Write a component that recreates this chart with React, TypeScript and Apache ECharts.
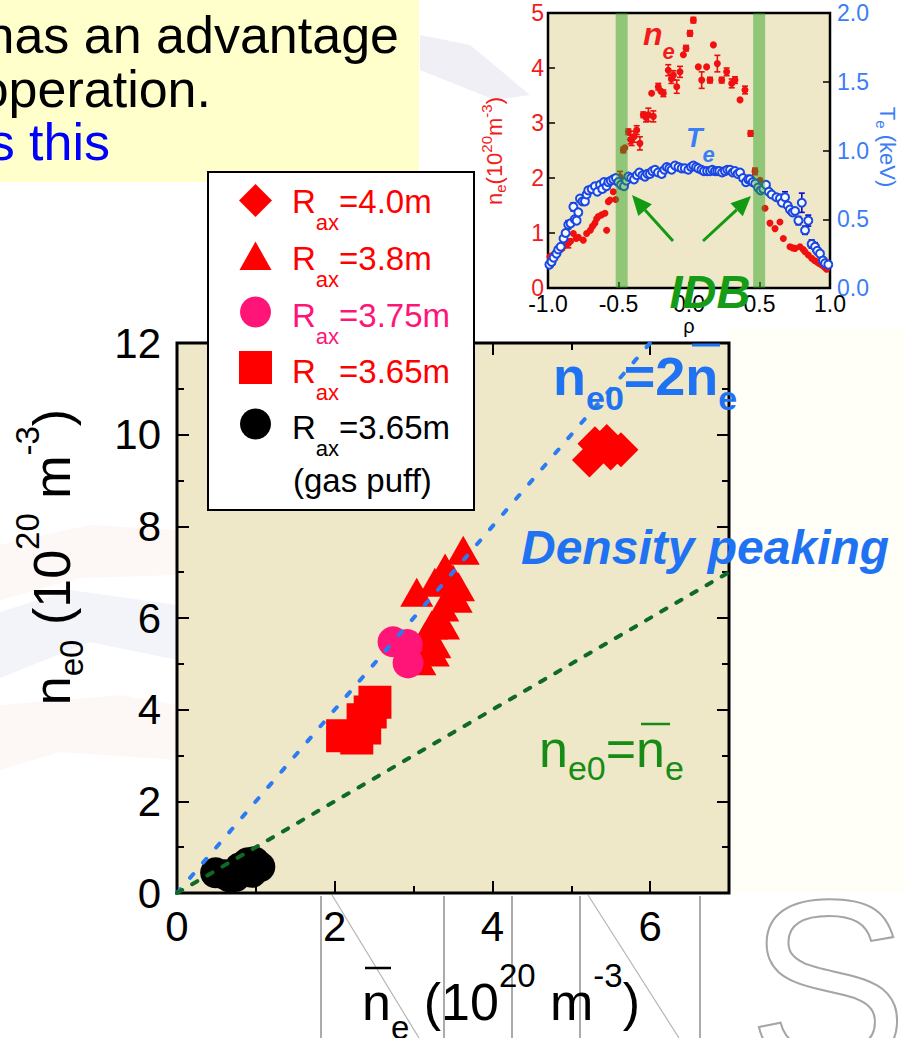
import React, { useEffect, useRef } from "react";
import * as echarts from "echarts";

const FONT = '"Liberation Sans", Arial, Helvetica, sans-serif';

// ---------- main chart data ----------
const mainXLabels = [0, 2, 4, 6];
const mainYLabels = [0, 2, 4, 6, 8, 10, 12];
const rax40 = [[5.23, 9.45], [5.3, 9.8], [5.45, 9.85], [5.5, 9.6], [5.63, 9.67]];
const rax38 = [
  [3.63, 7.48], [3.4, 7.09], [3.5, 6.85], [3.27, 6.78], [3.57, 6.68], [3.04, 6.56], [3.54, 6.43],
  [3.37, 6.24], [3.38, 5.85], [3.23, 5.85], [3.15, 5.6], [3.27, 5.44], [3.25, 5.26], [3.08, 5.07],
];
const rax375 = [[2.74, 5.48], [2.92, 5.42], [2.93, 5.02]];
const rax365 = [[2.51, 4.16], [2.45, 3.95], [2.36, 3.78], [2.38, 3.6], [2.28, 3.38], [2.1, 3.43]];
const rax365gas = [
  [0.49, 0.44], [0.61, 0.4], [0.67, 0.35], [0.74, 0.36], [0.8, 0.55], [0.9, 0.66], [0.98, 0.68],
  [1.05, 0.57], [0.95, 0.45],
];
const peakLine = [[0, 0], [6, 12]];
const unityLine = [[0, 0], [7, 7]];

// ---------- inset data: [rho, value, error] ----------
const insetXLabels = [-1, -0.5, 0, 0.5, 1];
const neProfile = [
  [-0.986, 0.57, 0], [-0.965, 0.6, 0], [-0.95, 0.62, 0], [-0.92, 0.7, 0.05], [-0.9, 0.72, 0], [-0.88, 0.78, 0],
  [-0.856, 0.81, 0.08], [-0.84, 0.85, 0], [-0.82, 0.99, 0], [-0.8, 0.9, 0], [-0.785, 0.92, 0], [-0.75, 0.87, 0],
  [-0.726, 0.99, 0], [-0.7, 1.05, 0], [-0.685, 1.12, 0], [-0.667, 1.18, 0], [-0.655, 1.26, 0], [-0.643, 1.3, 0],
  [-0.62, 1.33, 0], [-0.596, 1.36, 0], [-0.584, 1.05, 0], [-0.572, 1.57, 0], [-0.56, 1.6, 0], [-0.537, 1.75, 0],
  [-0.52, 1.61, 0], [-0.489, 2.02, 0.1], [-0.466, 2.51, 0.05], [-0.455, 2.55, 0], [-0.43, 2.84, 0.05],
  [-0.415, 2.7, 0.08], [-0.407, 2.69, 0.1], [-0.39, 2.75, 0.1], [-0.371, 2.87, 0.08], [-0.348, 2.63, 0.12],
  [-0.324, 3.15, 0.05], [-0.305, 3.1, 0.08], [-0.288, 3.15, 0.12], [-0.253, 3.12, 0.1], [-0.265, 3.54, 0],
  [-0.218, 3.66, 0.06], [-0.2, 3.58, 0], [-0.182, 3.54, 0.06], [-0.147, 3.96, 0.1], [-0.125, 3.8, 0.08],
  [-0.111, 3.87, 0.08], [-0.087, 3.66, 0.12], [-0.064, 3.93, 0.1], [-0.04, 4.24, 0], [-0.021, 4.36, 0.05],
  [0.007, 4.63, 0.05], [0.031, 4.87, 0.05], [0.066, 4.02, 0], [0.09, 3.78, 0.15], [0.125, 4.02, 0],
  [0.149, 3.78, 0.05], [0.173, 4.42, 0], [0.201, 4.08, 0.15], [0.232, 3.78, 0.05], [0.267, 3.93, 0.07],
  [0.303, 3.72, 0.08], [0.326, 3.78, 0.06], [0.362, 3.42, 0], [0.397, 3.6, 0.07], [0.437, 2.81, 0.05],
  [0.468, 2.12, 0.06], [0.504, 1.96, 0], [0.539, 1.45, 0], [0.574, 1.18, 0], [0.61, 1.08, 0], [0.645, 1.2, 0],
  [0.669, 0.9, 0], [0.716, 0.75, 0], [0.735, 0.73, 0], [0.752, 0.72, 0], [0.787, 0.75, 0], [0.81, 0.7, 0],
  [0.823, 0.66, 0], [0.846, 0.6, 0], [0.87, 0.54, 0], [0.89, 0.5, 0], [0.905, 0.48, 0], [0.92, 0.45, 0],
  [0.94, 0.42, 0], [0.96, 0.38, 0], [0.976, 0.34, 0],
];
const teProfile = [
  [-0.99, 0.17, 0.02], [-0.975, 0.19, 0], [-0.96, 0.22, 0], [-0.94, 0.25, 0.02], [-0.927, 0.28, 0], [-0.91, 0.3, 0],
  [-0.89, 0.36, 0.02], [-0.875, 0.4, 0], [-0.856, 0.46, 0.03], [-0.84, 0.47, 0], [-0.82, 0.59, 0.03], [-0.81, 0.5, 0],
  [-0.797, 0.49, 0.02], [-0.785, 0.55, 0], [-0.773, 0.65, 0.02], [-0.755, 0.63, 0], [-0.738, 0.63, 0.02],
  [-0.726, 0.68, 0], [-0.714, 0.71, 0.02], [-0.69, 0.72, 0], [-0.667, 0.74, 0.02], [-0.65, 0.7, 0],
  [-0.631, 0.75, 0.02], [-0.615, 0.72, 0], [-0.603, 0.77, 0.02], [-0.585, 0.74, 0], [-0.572, 0.77, 0],
  [-0.555, 0.78, 0], [-0.537, 0.79, 0.02], [-0.518, 0.8, 0], [-0.501, 0.77, 0], [-0.482, 0.75, 0],
  [-0.461, 0.74, 0], [-0.445, 0.78, 0], [-0.43, 0.81, 0], [-0.41, 0.8, 0], [-0.39, 0.79, 0.02], [-0.37, 0.82, 0],
  [-0.352, 0.84, 0], [-0.33, 0.82, 0], [-0.312, 0.81, 0.02], [-0.295, 0.83, 0], [-0.277, 0.83, 0],
  [-0.26, 0.85, 0], [-0.241, 0.86, 0], [-0.22, 0.84, 0], [-0.194, 0.83, 0], [-0.175, 0.86, 0], [-0.158, 0.88, 0],
  [-0.14, 0.87, 0], [-0.123, 0.86, 0], [-0.099, 0.89, 0], [-0.075, 0.88, 0], [-0.052, 0.87, 0], [-0.03, 0.87, 0],
  [-0.005, 0.86, 0], [0.015, 0.88, 0], [0.031, 0.89, 0], [0.05, 0.88, 0], [0.066, 0.87, 0], [0.088, 0.86, 0],
  [0.106, 0.85, 0], [0.128, 0.85, 0], [0.149, 0.85, 0], [0.165, 0.86, 0], [0.184, 0.85, 0], [0.2, 0.85, 0],
  [0.215, 0.85, 0], [0.235, 0.84, 0], [0.255, 0.85, 0], [0.272, 0.86, 0], [0.291, 0.86, 0], [0.31, 0.84, 0],
  [0.326, 0.85, 0], [0.345, 0.83, 0], [0.362, 0.84, 0], [0.383, 0.8, 0], [0.404, 0.77, 0], [0.42, 0.79, 0],
  [0.433, 0.79, 0], [0.452, 0.77, 0], [0.47, 0.76, 0], [0.49, 0.73, 0], [0.508, 0.71, 0.02], [0.527, 0.72, 0],
  [0.546, 0.75, 0], [0.566, 0.7, 0], [0.586, 0.68, 0.02], [0.62, 0.66, 0], [0.645, 0.65, 0.03], [0.66, 0.62, 0],
  [0.681, 0.66, 0.04], [0.7, 0.6, 0], [0.716, 0.57, 0.02], [0.735, 0.55, 0], [0.752, 0.56, 0.02],
  [0.776, 0.49, 0.03], [0.8, 0.62, 0.07], [0.823, 0.42, 0.03], [0.846, 0.49, 0.04], [0.87, 0.32, 0.03],
  [0.894, 0.3, 0.03], [0.91, 0.27, 0.02], [0.929, 0.25, 0.02], [0.95, 0.2, 0], [0.965, 0.18, 0.02],
  [0.988, 0.17, 0.02],
];
const idbBands = [[-0.52, 0, -0.435], [0.455, 0, 0.54]];

// ---------- colours ----------
const RED = "#FF0000";
const PINK = "#FF1478";
const BLUE = "#1F72F2";
const GREEN_LINE = "#0F6A26";
const GREEN_TXT = "#168C16";
const BG_PLOT = "#EEE8C8";
const INSET_RED = "#F21C1C";
const INSET_BLUE = "#3A7DF6";

const tok = (size: number, extra: any = {}) => ({ fontSize: size, fontFamily: FONT, ...extra });

const text = (x: number, y: number, str: string, style: any, extra: any = {}) => ({
  type: "text",
  x,
  y,
  z: 50,
  ...extra,
  style: { text: str, fontFamily: FONT, ...style },
});

const errRender = (color: string) => (params: any, api: any) => {
  const e = api.value(2);
  const x = api.value(0);
  const y = api.value(1);
  if (!e) return { type: "group", children: [] };
  const t = api.coord([x, y + e]);
  const b = api.coord([x, y - e]);
  const st = { stroke: color, lineWidth: 1.6 };
  return {
    type: "group",
    children: [
      { type: "line", shape: { x1: t[0], y1: t[1], x2: b[0], y2: b[1] }, style: st },
      { type: "line", shape: { x1: t[0] - 3, y1: t[1], x2: t[0] + 3, y2: t[1] }, style: st },
      { type: "line", shape: { x1: b[0] - 3, y1: b[1], x2: b[0] + 3, y2: b[1] }, style: st },
    ],
  };
};

const bandRender = (params: any, api: any) => {
  const a = api.coord([api.value(0), 5]);
  const b = api.coord([api.value(2), 0]);
  return {
    type: "rect",
    shape: { x: a[0], y: a[1], width: b[0] - a[0], height: b[1] - a[1] },
    style: { fill: "rgba(40,160,30,0.47)" },
  };
};

function buildOption() {
  const tickBlack = { color: "#000", width: 2 };
  const noLine = { show: false, onZero: false };
  const mainX = (position: string, interval: number, len: number, labels: boolean) => ({
    gridIndex: 0,
    type: "value",
    min: 0,
    max: 7,
    interval,
    position,
    axisLine: noLine,
    splitLine: { show: false },
    axisTick: { show: true, inside: true, length: len, lineStyle: tickBlack },
    axisLabel: labels
      ? {
          show: true,
          fontSize: 42,
          color: "#000",
          margin: 12,
          fontFamily: FONT,
          formatter: (v: number) => (mainXLabels.includes(v) ? String(v) : ""),
        }
      : { show: false },
  });
  const mainY = (position: string, labels: boolean) => ({
    gridIndex: 0,
    type: "value",
    min: 0,
    max: 12,
    interval: 2,
    position,
    axisLine: noLine,
    splitLine: { show: false },
    axisTick: { show: true, inside: true, length: 12, lineStyle: tickBlack },
    minorTick: { show: true, splitNumber: 2, length: 7, lineStyle: tickBlack },
    axisLabel: labels
      ? {
          show: true,
          fontSize: 42,
          color: "#000",
          margin: 16,
          fontFamily: FONT,
          formatter: (v: number) => (mainYLabels.includes(v) ? String(v) : ""),
        }
      : { show: false },
  });

  const legendRows = [
    { y: 201.6, color: RED, val: "=4.0m" },
    { y: 258.6, color: RED, val: "=3.8m" },
    { y: 315.6, color: PINK, val: "=3.75m" },
    { y: 371.6, color: RED, val: "=3.65m" },
    { y: 427, color: "#000", val: "=3.65m" },
  ];
  const legendRich = { m: tok(33), s: tok(22, { padding: [42, 0, 0, 0] }) };

  const titleRich = (sub: number, sup: number) => ({
    m: tok(52),
    s: tok(33, { padding: [sub, 0, 0, 0] }),
    p: tok(33, { padding: [0, 0, sup, 0] }),
  });

  const graphic: any[] = [
    // slide background
    { type: "rect", z: -5, shape: { x: 729, y: 330, width: 175, height: 563 }, style: { fill: "#FFFEF7" } },
    { type: "rect", z: -5, shape: { x: 0, y: 0, width: 419, height: 182 }, style: { fill: "#FFFFCC" } },
    {
      type: "polygon", z: -5,
      shape: { points: [[420, 35], [470, 45], [530, 95], [495, 100], [420, 70]] },
      style: { fill: "rgba(226,224,238,0.5)" },
    },
    {
      type: "polygon", z: -5,
      shape: { points: [[0, 545], [90, 525], [177, 530], [177, 575], [80, 578], [0, 600]] },
      style: { fill: "rgba(250,228,222,0.3)" },
    },
    {
      type: "polygon", z: -5,
      shape: { points: [[0, 612], [70, 590], [177, 605], [177, 660], [90, 642], [0, 678]] },
      style: { fill: "rgba(214,220,240,0.32)" },
    },
    {
      type: "polygon", z: -5,
      shape: { points: [[0, 705], [120, 695], [177, 705], [177, 760], [60, 752], [0, 770]] },
      style: { fill: "rgba(248,232,225,0.3)" },
    },
    // outline logo lines at the bottom
    ...[321, 444, 512, 580, 700].map((x) => ({
      type: "line", z: -5,
      shape: { x1: x, y1: 896, x2: x, y2: 1038 },
      style: { stroke: "#ABABAB", lineWidth: 2 },
    })),
    { type: "line", z: -5, shape: { x1: 332, y1: 895, x2: 419, y2: 1038 }, style: { stroke: "#B5B5B5", lineWidth: 1.2 } },
    { type: "line", z: -5, shape: { x1: 588, y1: 895, x2: 679, y2: 1038 }, style: { stroke: "#B5B5B5", lineWidth: 1.2 } },
    text(748, 984, "S", {
      fontSize: 240, fill: "rgba(255,255,255,0)", stroke: "#A5A5A5", lineWidth: 2, align: "left", verticalAlign: "middle",
    }, { z: -4 }),

    // slide text
    text(399, 35, "has an advantage", { fontSize: 52, fill: "#000", align: "right", verticalAlign: "middle" }, { z: 1 }),
    text(211, 89, "operation.", { fontSize: 52, fill: "#000", align: "right", verticalAlign: "middle" }, { z: 1 }),
    text(110, 142, "s this", { fontSize: 52, fill: "#0000FF", align: "right", verticalAlign: "middle" }, { z: 1 }),

    // legend box
    {
      type: "rect", z: 50,
      shape: { x: 208, y: 172, width: 266, height: 338 },
      style: { fill: "#FFFFFF", stroke: "#000", lineWidth: 2 },
    },
    { type: "polygon", z: 51, shape: { points: [[255.5, 184], [272, 200.5], [255.5, 217], [239, 200.5]] }, style: { fill: RED } },
    { type: "polygon", z: 51, shape: { points: [[255.5, 241.5], [271.5, 270], [239.5, 270]] }, style: { fill: RED } },
    { type: "circle", z: 51, shape: { cx: 255.5, cy: 312, r: 15.5 }, style: { fill: PINK } },
    { type: "rect", z: 51, shape: { x: 239, y: 351, width: 33, height: 33 }, style: { fill: RED } },
    { type: "circle", z: 51, shape: { cx: 255.5, cy: 424, r: 15.5 }, style: { fill: "#000" } },
    ...legendRows.map((r) =>
      text(292, r.y, `{m|R}{s|ax}{m|${r.val}}`, {
        fill: r.color, rich: legendRich, align: "left", verticalAlign: "middle",
      }, { z: 52 })
    ),
    text(293, 480, "(gas puff)", { fontSize: 33, fill: "#000", align: "left", verticalAlign: "middle" }, { z: 52 }),

    // main plot annotations
    text(553, 376, "{m|n}{s|e0}{m|=2n}{s|e}", {
      fill: BLUE, align: "left", verticalAlign: "middle",
      rich: {
        m: tok(54, { fontWeight: "bold" }),
        s: tok(34, { fontWeight: "bold", padding: [44, 0, 0, 0] }),
      },
    }),
    { type: "line", z: 50, shape: { x1: 692, y1: 345, x2: 720, y2: 345 }, style: { stroke: BLUE, lineWidth: 3 } },
    text(521, 547, "Density peaking", {
      fontSize: 48, fontWeight: "bold", fontStyle: "italic", fill: BLUE, align: "left", verticalAlign: "middle",
    }),
    text(539, 749, "{m|n}{s|e0}{m|=n}{s|e}", {
      fill: GREEN_TXT, align: "left", verticalAlign: "middle",
      rich: { m: tok(52), s: tok(34, { padding: [38, 0, 0, 0] }) },
    }),
    { type: "line", z: 50, shape: { x1: 641, y1: 724, x2: 670, y2: 724 }, style: { stroke: GREEN_TXT, lineWidth: 2.5 } },

    // main axis titles
    text(362, 1002, "{m|n}{s|e}{m| (10}{p|20}{m| m}{p|-3}{m|)}", {
      fill: "#000", align: "left", verticalAlign: "middle", rich: titleRich(50, 54),
    }),
    { type: "line", z: 50, shape: { x1: 365, y1: 968, x2: 391, y2: 968 }, style: { stroke: "#000", lineWidth: 2.5 } },
    text(52, 557, "{m|n}{s|e0}{m| (10}{p|20}{m| m}{p|-3}{m|)}", {
      fill: "#000", align: "center", verticalAlign: "middle", rich: titleRich(38, 50),
    }, { rotation: Math.PI / 2 }),

    // inset annotations
    text(494, 151, "{m|n}{s|e}{m|(10}{p|20}{m|m}{p|-3}{m|)}", {
      fill: INSET_RED, align: "center", verticalAlign: "middle",
      rich: {
        m: tok(22),
        s: tok(15, { padding: [12, 0, 0, 0] }),
        p: tok(15, { padding: [0, 0, 16, 0] }),
      },
    }, { rotation: Math.PI / 2 }),
    text(887, 147, "{m|T}{s|e}{m| (keV)}", {
      fill: INSET_BLUE, align: "center", verticalAlign: "middle",
      rich: { m: tok(22), s: tok(15, { padding: [12, 0, 0, 0] }) },
    }, { rotation: -Math.PI / 2 }),
    text(689, 326, "ρ", { fontSize: 20, fill: "#000", align: "center", verticalAlign: "middle" }),
    text(643, 34, "{m|n}{s|e}", {
      fill: INSET_RED, align: "left", verticalAlign: "middle",
      rich: {
        m: tok(32, { fontWeight: "bold", fontStyle: "italic" }),
        s: tok(22, { fontWeight: "bold", fontStyle: "italic", padding: [34, 0, 0, 0] }),
      },
    }),
    text(686, 138, "{m|T}{s|e}", {
      fill: INSET_BLUE, align: "left", verticalAlign: "middle",
      rich: {
        m: tok(27, { fontWeight: "bold", fontStyle: "italic" }),
        s: tok(22, { fontWeight: "bold", fontStyle: "italic", padding: [32, 0, 0, 0] }),
      },
    }),
    // arrows towards the IDB bands
    { type: "line", z: 50, shape: { x1: 673, y1: 241, x2: 645, y2: 210 }, style: { stroke: "#139A13", lineWidth: 3 } },
    { type: "polygon", z: 50, shape: { points: [[632, 195], [651.9, 204.2], [638.3, 216]] }, style: { fill: "#139A13" } },
    { type: "line", z: 50, shape: { x1: 703, y1: 241, x2: 736.6, y2: 209.8 }, style: { stroke: "#139A13", lineWidth: 3 } },
    { type: "polygon", z: 50, shape: { points: [[751, 196], [742.8, 216.3], [730.4, 203.3]] }, style: { fill: "#139A13" } },
    text(710, 291, "IDB", {
      fontSize: 47, fontWeight: "bold", fontStyle: "italic", fill: "#169B16", align: "center", verticalAlign: "middle",
    }, { z: 60 }),
  ];

  return {
    animation: false,
    backgroundColor: "#FFFFFF",
    textStyle: { fontFamily: FONT },
    grid: [
      { left: 177, top: 343, width: 552, height: 550, show: true, backgroundColor: BG_PLOT, borderColor: "#000", borderWidth: 3 },
      { left: 548, top: 13, width: 282, height: 275, show: true, backgroundColor: BG_PLOT, borderColor: "#000", borderWidth: 2.5 },
    ],
    xAxis: [
      mainX("bottom", 2, 12, true),
      mainX("bottom", 1, 7, false),
      mainX("top", 2, 12, false),
      mainX("top", 1, 7, false),
      {
        gridIndex: 1,
        type: "value",
        min: -1,
        max: 1,
        interval: 0.5,
        position: "bottom",
        axisLine: noLine,
        splitLine: { show: false },
        axisTick: { show: true, inside: true, length: 6, lineStyle: { color: "#000", width: 1.5 } },
        axisLabel: {
          fontSize: 23,
          color: "#000",
          margin: 4,
          fontFamily: FONT,
          formatter: (v: number) => (insetXLabels.includes(v) ? v.toFixed(1) : ""),
        },
      },
    ],
    yAxis: [
      mainY("left", true),
      mainY("right", false),
      {
        gridIndex: 1,
        type: "value",
        min: 0,
        max: 5,
        interval: 1,
        position: "left",
        axisLine: noLine,
        splitLine: { show: false },
        axisTick: { show: true, inside: true, length: 7, lineStyle: { color: "#000", width: 1.5 } },
        axisLabel: { fontSize: 23, color: INSET_RED, margin: 4, fontFamily: FONT },
      },
      {
        gridIndex: 1,
        type: "value",
        min: 0,
        max: 2,
        interval: 0.5,
        position: "right",
        axisLine: noLine,
        splitLine: { show: false },
        axisTick: { show: true, inside: true, length: 7, lineStyle: { color: "#000", width: 1.5 } },
        axisLabel: {
          fontSize: 23,
          color: INSET_BLUE,
          margin: 7,
          fontFamily: FONT,
          formatter: (v: number) => v.toFixed(1),
        },
      },
    ],
    series: [
      { type: "scatter", name: "Rax=4.0m", xAxisIndex: 0, yAxisIndex: 0, data: rax40, symbol: "diamond", symbolSize: 35, itemStyle: { color: RED, opacity: 1 }, z: 2 },
      { type: "scatter", name: "Rax=3.8m", xAxisIndex: 0, yAxisIndex: 0, data: rax38, symbol: "triangle", symbolSize: [33, 29], itemStyle: { color: RED, opacity: 1 }, z: 2 },
      { type: "scatter", name: "Rax=3.75m", xAxisIndex: 0, yAxisIndex: 0, data: rax375, symbol: "circle", symbolSize: 31, itemStyle: { color: PINK, opacity: 1 }, z: 2 },
      { type: "scatter", name: "Rax=3.65m", xAxisIndex: 0, yAxisIndex: 0, data: rax365, symbol: "rect", symbolSize: 33, itemStyle: { color: RED, opacity: 1 }, z: 2 },
      { type: "scatter", name: "Rax=3.65m (gas puff)", xAxisIndex: 0, yAxisIndex: 0, data: rax365gas, symbol: "circle", symbolSize: 31, itemStyle: { color: "#000", opacity: 1 }, z: 2 },
      {
        type: "line", name: "ne0=2ne", xAxisIndex: 0, yAxisIndex: 0, data: peakLine, symbol: "none", silent: true, z: 4,
        lineStyle: { color: "#2B7BF2", width: 4, type: [5, 15], cap: "round" },
      },
      {
        type: "line", name: "ne0=ne", xAxisIndex: 0, yAxisIndex: 0, data: unityLine, symbol: "none", silent: true, z: 4,
        lineStyle: { color: GREEN_LINE, width: 4, type: [6, 11.5], cap: "round" },
      },
      { type: "custom", name: "ne error", xAxisIndex: 4, yAxisIndex: 2, data: neProfile, renderItem: errRender("#E81010"), z: 2 },
      { type: "scatter", name: "ne", xAxisIndex: 4, yAxisIndex: 2, data: neProfile, symbol: "circle", symbolSize: 7, itemStyle: { color: "#F01010", opacity: 1 }, z: 3 },
      { type: "custom", name: "Te error", xAxisIndex: 4, yAxisIndex: 3, data: teProfile, renderItem: errRender("#0A0ACC"), z: 4 },
      {
        type: "scatter", name: "Te", xAxisIndex: 4, yAxisIndex: 3, data: teProfile, symbol: "circle", symbolSize: 8, z: 5,
        itemStyle: { color: "#F4F8FF", borderColor: "#1A46E2", borderWidth: 2, opacity: 1 },
      },
      { type: "custom", name: "IDB", xAxisIndex: 4, yAxisIndex: 2, data: idbBands, renderItem: bandRender, z: 6, silent: true },
    ],
    graphic,
  };
}

export default function App() {
  const ref = useRef<HTMLDivElement>(null);
  useEffect(() => {
    if (!ref.current) return;
    const chart = echarts.init(ref.current, null, { renderer: "svg" });
    chart.setOption(buildOption() as any);
    return () => chart.dispose();
  }, []);
  return (
    <div
      ref={ref}
      style={{ position: "absolute", left: 0, top: 0, width: 904, height: 1038, background: "#fff" }}
    />
  );
}
